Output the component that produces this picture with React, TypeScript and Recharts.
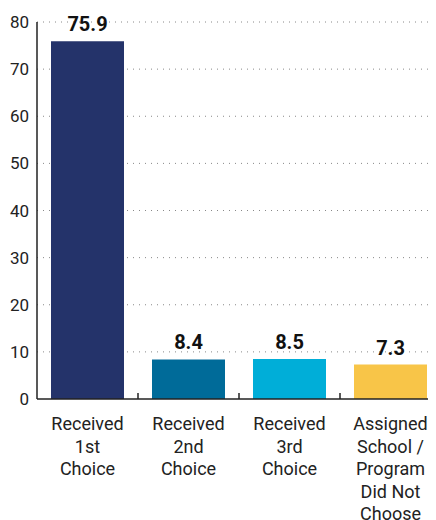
import React from 'react'
import { BarChart, Bar, XAxis, YAxis, CartesianGrid, Cell, LabelList } from 'recharts'

const categories = [
  'Received|1st|Choice',
  'Received|2nd|Choice',
  'Received|3rd|Choice',
  'Assigned|School /|Program|Did Not|Choose',
]
const values = [75.9, 8.4, 8.5, 7.3]
const barColors = ['#24336a', '#006b99', '#00aed8', '#f8c548']
const yTicks = [0, 10, 20, 30, 40, 50, 60, 70, 80]

const data = categories.map((name, i) => ({ name, value: values[i] }))

const FONT = 'Roboto, "DejaVu Sans", sans-serif'

function CategoryTick(props: any) {
  const { x, y, payload } = props
  const lines: string[] = String(payload.value).split('|')
  const half = payload.offset || 0
  return (
    <g>
      <line x1={x + half} x2={x + half} y1={y - 6} y2={y} stroke="#222" strokeWidth={1.5} />
      <text x={x} y={y} textAnchor="middle" fill="#222" fontSize={18} fontFamily={FONT}>
        {lines.map((ln, i) => (
          <tspan key={i} x={x} dy={i === 0 ? 31 : 22.5}>
            {ln}
          </tspan>
        ))}
      </text>
    </g>
  )
}

export default function App() {
  return (
    <div style={{ marginLeft: -8, marginTop: -8, width: 436, height: 520, overflow: 'hidden' }}>
      <BarChart
        width={441}
        height={520}
        data={data}
        margin={{ top: 22, right: 0, bottom: 0, left: 0 }}
        barCategoryGap={14}
      >
        <CartesianGrid
          vertical={false}
          horizontal
          stroke="#888"
          strokeDasharray="1 5"
          horizontalValues={yTicks.slice(1)}
        />
        <YAxis
          width={37}
          domain={[0, 80]}
          ticks={yTicks}
          interval={0}
          tickLine={false}
          axisLine={{ stroke: '#222', strokeWidth: 1.5 }}
          tick={{ fill: '#222', fontSize: 17, fontFamily: FONT }}
        />
        <XAxis
          dataKey="name"
          height={121}
          interval={0}
          tickLine={false}
          tickSize={0}
          tickMargin={0}
          axisLine={{ stroke: '#222', strokeWidth: 1.5 }}
          tick={<CategoryTick />}
        />
        <Bar dataKey="value" isAnimationActive={false}>
          {data.map((d, i) => (
            <Cell key={d.name} fill={barColors[i]} />
          ))}
          <LabelList
            dataKey="value"
            position="top"
            offset={10}
            style={{ fontWeight: 700, fontSize: 20, fill: '#111', fontFamily: FONT }}
          />
        </Bar>
      </BarChart>
    </div>
  )
}
